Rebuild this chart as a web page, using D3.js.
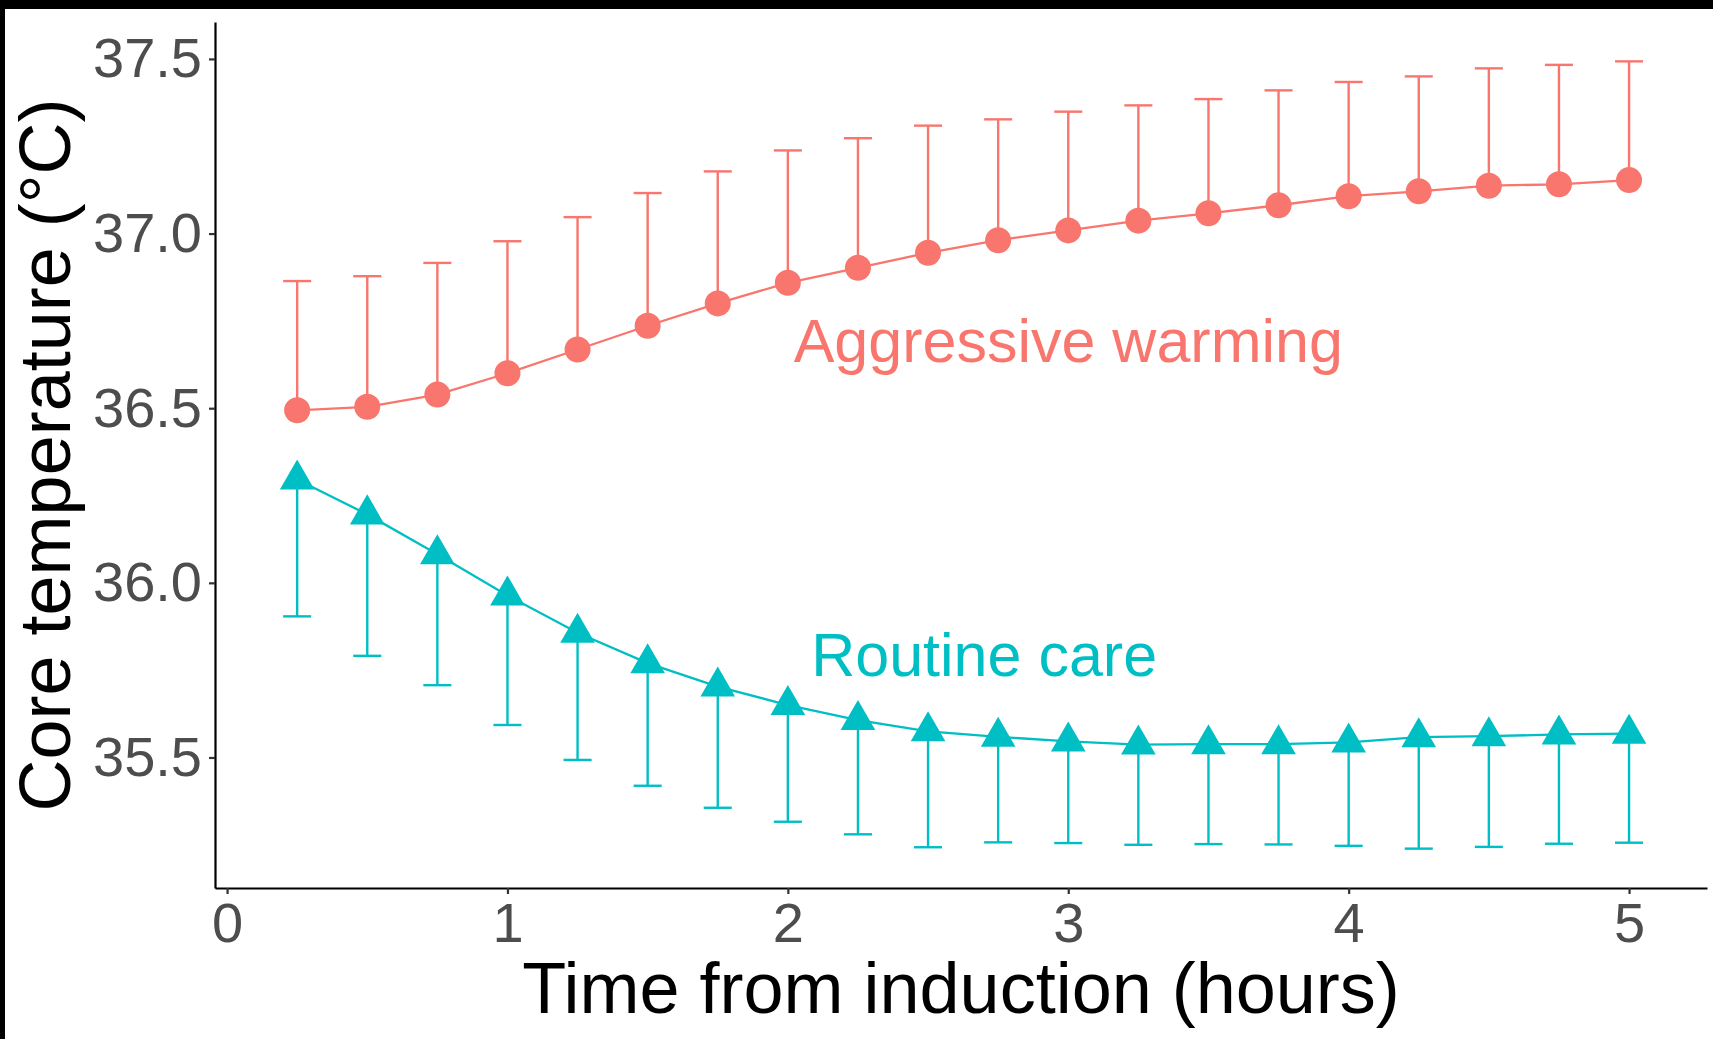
<!DOCTYPE html>
<html>
<head>
<meta charset="utf-8">
<script src="https://cdn.jsdelivr.net/npm/d3@7"></script>
<style>
  body { margin: 0; background: #000; }
  svg { display: block; }
</style>
</head>
<body>
<svg id="chart"></svg>
<script>
// time points (hours from induction)
var hours = [0.25, 0.5, 0.75, 1, 1.25, 1.5, 1.75, 2, 2.25, 2.5, 2.75, 3, 3.25, 3.5, 3.75, 4, 4.25, 4.5, 4.75, 5]

// aggressive warming: mean and upper error bar
var warmMean = [36.494, 36.504, 36.539, 36.600, 36.668, 36.736, 36.800, 36.859, 36.902, 36.945,
                36.981, 37.009, 37.037, 37.058, 37.081, 37.107, 37.121, 37.137, 37.141, 37.153]
var warmUpper = [36.864, 36.878, 36.916, 36.978, 37.047, 37.116, 37.178, 37.238, 37.273, 37.309,
                 37.327, 37.349, 37.367, 37.385, 37.410, 37.434, 37.450, 37.473, 37.483, 37.493]

// routine care: mean and lower error bar
var routineMean = [36.296, 36.196, 36.082, 35.964, 35.857, 35.770, 35.703, 35.650, 35.607, 35.575,
                   35.559, 35.546, 35.537, 35.538, 35.538, 35.543, 35.558, 35.561, 35.566, 35.568]
var routineLower = [35.904, 35.791, 35.707, 35.593, 35.493, 35.419, 35.356, 35.316, 35.280, 35.243,
                    35.257, 35.255, 35.250, 35.252, 35.251, 35.247, 35.239, 35.244, 35.253, 35.256]

var xTicks = [0, 1, 2, 3, 4, 5]
var yTicks = [35.5, 36.0, 36.5, 37.0, 37.5]

var groupNames = ["Aggressive warming", "Routine care"]
var labelX = [3, 2.7]
var labelY = [36.633, 35.733]

var red = "#F8766D", teal = "#00BFC4"

var dimensions = {
  width: 1713,
  height: 1039,
  margin: { top: 22, bottom: 151, right: 6, left: 215 }
}

var svg = d3.select("#chart")
  .attr("width", dimensions.width)
  .attr("height", dimensions.height)
  .style("font-family", "'Liberation Sans', Arial, sans-serif")

// black frame edge top/left, white page
svg.append("rect").attr("width", dimensions.width).attr("height", dimensions.height).attr("fill", "#000")
svg.append("rect").attr("x", 5).attr("y", 9)
  .attr("width", dimensions.width - 5).attr("height", dimensions.height - 9).attr("fill", "#fff")

// scales
var capW = 0.1
var x = d3.scaleLinear()
  .domain([-0.043, 5.278])
  .range([dimensions.margin.left, dimensions.width - dimensions.margin.right])

// y: ggplot-like 5% expansion around the error bars
var yLo = d3.min(routineLower), yHi = d3.max(warmUpper)
var yPad = (yHi - yLo) * 0.05
var y = d3.scaleLinear()
  .domain([yLo - yPad, yHi + yPad])
  .range([dimensions.height - dimensions.margin.bottom, dimensions.margin.top])

// axes
var xAxis = svg.append("g")
  .attr("transform", "translate(0," + (dimensions.height - dimensions.margin.bottom) + ")")
  .call(d3.axisBottom(x).tickValues(xTicks).tickFormat(d3.format("d")).tickSize(6).tickPadding(8).tickSizeOuter(0))
var yAxis = svg.append("g")
  .attr("transform", "translate(" + dimensions.margin.left + ",0)")
  .call(d3.axisLeft(y).tickValues(yTicks).tickFormat(d3.format(".1f")).tickSize(6).tickPadding(7).tickSizeOuter(0))

;[xAxis, yAxis].forEach(function(a) {
  a.select(".domain").attr("stroke", "#000").attr("stroke-width", 2.2)
  a.selectAll(".tick line").attr("stroke", "#333").attr("stroke-width", 2.2)
  a.selectAll(".tick text").attr("fill", "#4D4D4D").style("font-size", "56px")
})

// axis titles
svg.append("text")
  .text("Time from induction (hours)")
  .attr("text-anchor", "middle")
  .attr("x", (x.range()[0] + x.range()[1]) / 2)
  .attr("y", 1013)
  .style("font-size", "72px")
  .attr("fill", "#000")

svg.append("text")
  .text("Core temperature (°C)")
  .attr("text-anchor", "middle")
  .attr("transform", "rotate(-90)")
  .attr("x", -(y.range()[0] + y.range()[1]) / 2)
  .attr("y", 70)
  .style("font-size", "72px")
  .attr("fill", "#000")

// build series
var warm = hours.map(function(h, i) { return { t: h, m: warmMean[i], e: warmUpper[i] } })
var routine = hours.map(function(h, i) { return { t: h, m: routineMean[i], e: routineLower[i] } })

var line = d3.line().x(d => x(d.t)).y(d => y(d.m))

function drawSeries(data, color) {
  svg.append("path")
    .datum(data)
    .attr("d", line)
    .attr("fill", "none")
    .attr("stroke", color)
    .attr("stroke-width", 2.3)

  var bars = svg.append("g").attr("stroke", color).attr("stroke-width", 2.4)
  bars.selectAll(".stem").data(data).join("line")
    .attr("x1", d => x(d.t)).attr("x2", d => x(d.t))
    .attr("y1", d => y(d.m)).attr("y2", d => y(d.e))
  bars.selectAll(".cap").data(data).join("line")
    .attr("x1", d => x(d.t - capW / 2)).attr("x2", d => x(d.t + capW / 2))
    .attr("y1", d => y(d.e)).attr("y2", d => y(d.e))
}

drawSeries(warm, red)
drawSeries(routine, teal)

// markers
svg.append("g").selectAll("circle").data(warm).join("circle")
  .attr("cx", d => x(d.t))
  .attr("cy", d => y(d.m))
  .attr("r", 13)
  .attr("fill", red)

svg.append("g").selectAll("path").data(routine).join("path")
  .attr("d", d3.symbol().type(d3.symbolTriangle).size(520))
  .attr("transform", d => "translate(" + x(d.t) + "," + y(d.m) + ")")
  .attr("fill", teal)

// group labels
groupNames.forEach(function(name, i) {
  svg.append("text")
    .text(name)
    .attr("text-anchor", "middle")
    .attr("x", x(labelX[i]))
    .attr("y", y(labelY[i]))
    .style("font-size", "61px")
    .attr("fill", i == 0 ? red : teal)
})
</script>
</body>
</html>
